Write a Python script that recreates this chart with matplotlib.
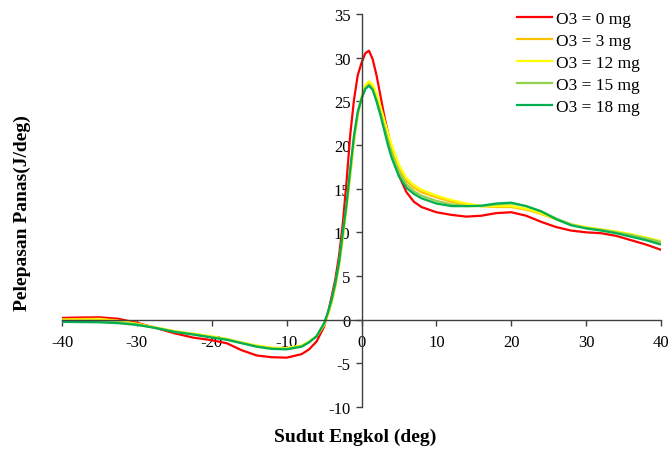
import matplotlib
matplotlib.use("Agg")
import matplotlib.pyplot as plt

plt.rcParams['font.family'] = ['Liberation Serif', 'DejaVu Serif']
plt.rcParams['axes.unicode_minus'] = False

# crank angle (deg)
sudut = [-40, -37.5, -35, -32.5, -30, -27.5, -25, -22.5, -20,
         -18, -16, -14, -12, -10, -8, -7, -6, -5,
         -4.5, -4, -3.5, -3, -2.5, -2, -1.5, -1, -0.5, 0,
         0.5, 1, 1.5, 2, 2.5, 3, 3.5, 4,
         5, 6, 7, 8,
         10, 12, 14, 16, 18, 20, 22, 24, 26, 28, 30, 32, 34, 36, 38, 40]

o3_0 = [0.2, 0.25, 0.27, 0.1, -0.35, -0.95, -1.55, -2.05, -2.35,
        -2.7, -3.5, -4.1, -4.3, -4.35, -3.95, -3.4, -2.5, -0.8,
        0.7, 2.6, 4.6, 7.3, 11.0, 15.8, 21.2, 25.2, 28.0, 29.4,
        30.5, 30.8, 29.8, 28.0, 25.8, 23.5, 21.5, 19.6,
        16.5, 14.6, 13.5, 12.9,
        12.3, 12.0, 11.8, 11.9, 12.2, 12.3, 11.9, 11.2, 10.6, 10.2, 10.0, 9.9, 9.6, 9.1, 8.6, 8.0]

o3_3 = [0.05, 0.08, 0.1, -0.1, -0.45, -0.9, -1.35, -1.65, -1.95,
        -2.25, -2.65, -3.0, -3.25, -3.3, -3.0, -2.55, -1.9, -0.6,
        0.6, 2.0, 3.9, 6.3, 9.5, 13.0, 16.7, 20.6, 23.5, 25.3,
        26.5, 27.0, 26.6, 25.6, 24.2, 22.7, 21.2, 19.8,
        17.3, 15.9, 15.1, 14.6,
        14.0, 13.5, 13.2, 13.0, 12.9, 12.9, 12.6, 12.1, 11.5, 10.9, 10.5, 10.3, 10.0, 9.6, 9.2, 8.8]

o3_12 = [-0.05, -0.02, 0.05, -0.15, -0.5, -0.9, -1.3, -1.6, -1.9,
         -2.2, -2.6, -2.95, -3.2, -3.25, -2.95, -2.5, -1.9, -0.6,
         0.5, 1.9, 3.8, 6.1, 9.3, 12.8, 16.5, 20.4, 23.5, 25.5,
         26.8, 27.3, 26.9, 25.9, 24.5, 23.0, 21.5, 20.1,
         17.7, 16.2, 15.4, 14.9,
         14.2, 13.7, 13.3, 13.0, 13.0, 13.0, 12.7, 12.2, 11.5, 10.9, 10.6, 10.35, 10.1, 9.8, 9.4, 9.0]

o3_15 = [-0.15, -0.15, -0.15, -0.3, -0.55, -0.95, -1.35, -1.65, -2.0,
         -2.25, -2.65, -3.05, -3.3, -3.35, -3.05, -2.55, -1.9, -0.5,
         0.7, 2.1, 4.0, 6.4, 9.7, 13.1, 17.0, 20.8, 23.7, 25.3,
         26.5, 26.9, 26.4, 25.2, 23.8, 22.2, 20.6, 19.1,
         16.9, 15.5, 14.7, 14.2,
         13.6, 13.2, 13.0, 13.0, 13.2, 13.3, 13.0, 12.4, 11.6, 10.9, 10.5, 10.3, 10.0, 9.7, 9.3, 8.9]

o3_18 = [-0.25, -0.28, -0.3, -0.4, -0.6, -0.95, -1.4, -1.7, -2.05,
         -2.3, -2.7, -3.1, -3.35, -3.4, -3.1, -2.6, -1.9, -0.4,
         0.8, 2.3, 4.2, 6.6, 10.0, 13.3, 17.3, 21.1, 23.8, 25.3,
         26.4, 26.8, 26.3, 25.0, 23.5, 21.8, 20.1, 18.6,
         16.4, 15.1, 14.4, 13.9,
         13.3, 13.0, 13.0, 13.05, 13.3, 13.4, 13.0, 12.4, 11.5, 10.8, 10.45, 10.2, 9.9, 9.5, 9.1, 8.6]

series = [o3_0, o3_3, o3_12, o3_15, o3_18]
labels = ['O3 = 0 mg', 'O3 = 3 mg', 'O3 = 12 mg', 'O3 = 15 mg', 'O3 = 18 mg']
colors = ['#FF0000', '#FFC000', '#FFFF00', '#92D050', '#00B050']

fig = plt.figure(figsize=(6.69, 4.52), dpi=100)
ax = fig.add_axes([62/669, 1 - 408/452, 599/669, 393/452])

for y, lab, c in zip(series, labels, colors):
    ax.plot(sudut, y, color=c, lw=1.6, label=lab, solid_joinstyle='round')

ax.set_xlim(-40, 40)
ax.set_ylim(-10, 35)
ax.set_xticks(range(-40, 41, 10))
ax.set_yticks(range(-10, 36, 5))

# axes cross at the origin
ax.spines['left'].set_position(('data', 0))
ax.spines['bottom'].set_position(('data', 0))
ax.spines['top'].set_visible(False)
ax.spines['right'].set_visible(False)
for s in ['left', 'bottom']:
    ax.spines[s].set_color('#404040')
    ax.spines[s].set_linewidth(1.0)
ax.tick_params(direction='out', length=4, width=1.0, color='#404040',
               labelsize=12)
ax.tick_params(axis='x', pad=6)
ax.tick_params(axis='y', pad=4)

fig.text(355/669, 1 - 437/452, 'Sudut Engkol (deg)', ha='center', va='center',
         fontsize=14, fontweight='bold')
fig.text(22/669, 1 - 213/452, 'Pelepasan Panas(J/deg)', ha='center', va='center',
         rotation=90, fontsize=14, fontweight='bold')

ax.legend(loc='upper left', bbox_to_anchor=(517/669, 1 - 12/452),
          bbox_transform=fig.transFigure, frameon=False, fontsize=12.5,
          handlelength=2.0, handletextpad=0.25, labelspacing=0.33,
          borderpad=0, borderaxespad=0)

fig.savefig('out.png', dpi=100)
